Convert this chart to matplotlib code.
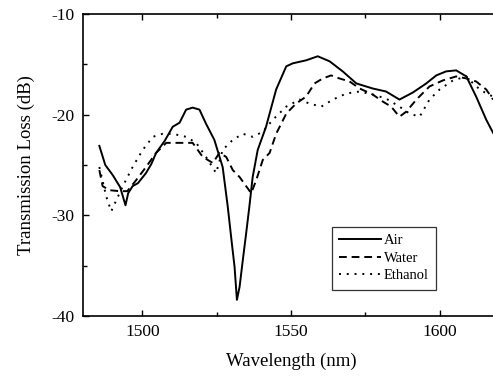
import matplotlib
matplotlib.use("Agg")
import matplotlib.pyplot as plt
from matplotlib.ticker import MultipleLocator

plt.rcParams['font.family'] = ['Liberation Serif', 'DejaVu Serif']
plt.rcParams['axes.unicode_minus'] = False

air_x = [1485.5, 1487.5, 1490.0, 1492.5, 1494.3, 1495.2, 1496.7, 1498.5, 1501.2, 1503.0,
         1504.6, 1507.5, 1510.2, 1512.5, 1514.7, 1516.9, 1519.2, 1521.4, 1524.2, 1527.0,
         1528.7, 1530.1, 1531.0, 1531.8, 1532.7, 1533.8, 1534.9, 1536.0, 1537.1, 1538.8,
         1541.6, 1545.0, 1548.4, 1550.6, 1555.1, 1559.0, 1563.0, 1567.4, 1572.0, 1577.5,
         1582.0, 1586.5, 1591.0, 1595.5, 1598.9, 1602.2, 1605.6, 1609.0, 1612.3, 1615.7,
         1618.0]
air_y = [-23.1, -25.0, -26.0, -27.2, -29.0, -27.8, -27.1, -26.8, -25.8, -24.9,
         -23.8, -22.6, -21.2, -20.8, -19.5, -19.3, -19.5, -20.9, -22.5, -25.2,
         -29.1, -32.8, -35.1, -38.4, -37.1, -34.4, -31.8, -29.1, -26.2, -23.5,
         -21.2, -17.5, -15.2, -14.9, -14.6, -14.2, -14.7, -15.7, -16.9, -17.4,
         -17.7, -18.5, -17.8, -16.9, -16.1, -15.7, -15.6, -16.2, -18.2, -20.5,
         -21.8]

water_x = [1485.5, 1486.6, 1488.9, 1492.3, 1494.9, 1497.9, 1501.2, 1504.6, 1508.0, 1512.5,
           1516.9, 1520.3, 1523.7, 1525.9, 1528.2, 1530.4, 1532.7, 1534.9, 1536.6, 1538.3,
           1540.5, 1542.8, 1545.0, 1548.4, 1551.7, 1555.1, 1557.9, 1560.7, 1563.5, 1566.3,
           1569.7, 1573.1, 1577.5, 1580.9, 1583.7, 1586.5, 1588.8, 1592.2, 1596.6, 1601.1,
           1605.6, 1609.0, 1612.3, 1615.7, 1618.0]
water_y = [-25.5, -27.1, -27.5, -27.6, -27.6, -26.5, -25.2, -23.8, -22.8, -22.8,
           -22.8, -24.2, -24.8, -23.8, -24.2, -25.5, -26.2, -27.1, -27.8, -26.5,
           -24.5, -23.8, -21.9, -19.9, -18.9, -18.2, -16.9, -16.4, -16.1, -16.4,
           -16.7, -17.4, -18.0, -18.7, -19.2, -20.2, -19.7, -18.5, -17.2, -16.6,
           -16.2, -16.4, -16.7, -17.5, -18.5]

ethanol_x = [1485.5, 1487.8, 1489.5, 1491.2, 1493.4, 1496.7, 1500.1, 1503.5, 1506.8, 1510.2,
             1514.7, 1518.1, 1521.4, 1524.8, 1527.0, 1530.4, 1533.8, 1537.1, 1540.5, 1543.9,
             1548.4, 1552.9, 1556.2, 1560.2, 1564.1, 1568.6, 1573.1, 1577.5, 1582.0, 1586.5,
             1589.9, 1593.3, 1596.6, 1600.0, 1604.5, 1609.0, 1612.3, 1615.7, 1618.0]
ethanol_y = [-25.2, -28.1, -29.6, -28.5, -27.1, -25.2, -23.5, -22.2, -21.9, -21.9,
             -22.2, -22.8, -24.2, -25.8, -23.5, -22.5, -21.9, -22.2, -21.7, -20.5,
             -19.2, -18.5, -18.9, -19.2, -18.5, -17.9, -17.7, -18.0, -18.4, -19.2,
             -19.9, -20.2, -18.5, -17.5, -16.6, -16.2, -17.2, -17.9, -18.2]

labels = ["Air", "Water", "Ethanol"]
xticks = [1500, 1550, 1600]
yticks = [-40, -30, -20, -10]

fig = plt.figure(figsize=(4.93, 3.76), dpi=100)
ax = fig.add_axes([83/493, 60/376, 416/493, 302/376])

ax.plot(air_x, air_y, color='black', lw=1.4, ls='-', label=labels[0])
ax.plot(water_x, water_y, color='black', lw=1.4, ls=(0, (4, 2.5)), label=labels[1])
ax.plot(ethanol_x, ethanol_y, color='black', lw=1.4, ls=(0, (1, 3)), label=labels[2])

ax.set_xlim(1480, 1620)
ax.set_ylim(-40, -10)
ax.set_xticks(xticks)
ax.set_yticks(yticks)
ax.xaxis.set_minor_locator(MultipleLocator(25))
ax.yaxis.set_minor_locator(MultipleLocator(5))
ax.tick_params(which='both', direction='in', top=True, right=True, labelsize=12.5, pad=6)
ax.tick_params(which='major', length=4, width=1)
ax.tick_params(which='minor', length=3, width=1)
for s in ax.spines.values():
    s.set_linewidth(1.2)

ax.set_xlabel("Wavelength (nm)", fontsize=13.5, labelpad=9)
ax.set_ylabel("Transmission Loss (dB)", fontsize=13.5, labelpad=12)

leg = ax.legend(loc='lower left', bbox_to_anchor=(332/416 - 0.2, 0.087), fontsize=10.5,
                frameon=True, fancybox=False, edgecolor='black', handlelength=2.9,
                handletextpad=0.15, borderpad=0.5, labelspacing=0.3, borderaxespad=0)
leg.get_frame().set_linewidth(0.9)

fig.savefig("out.png", dpi=100)
